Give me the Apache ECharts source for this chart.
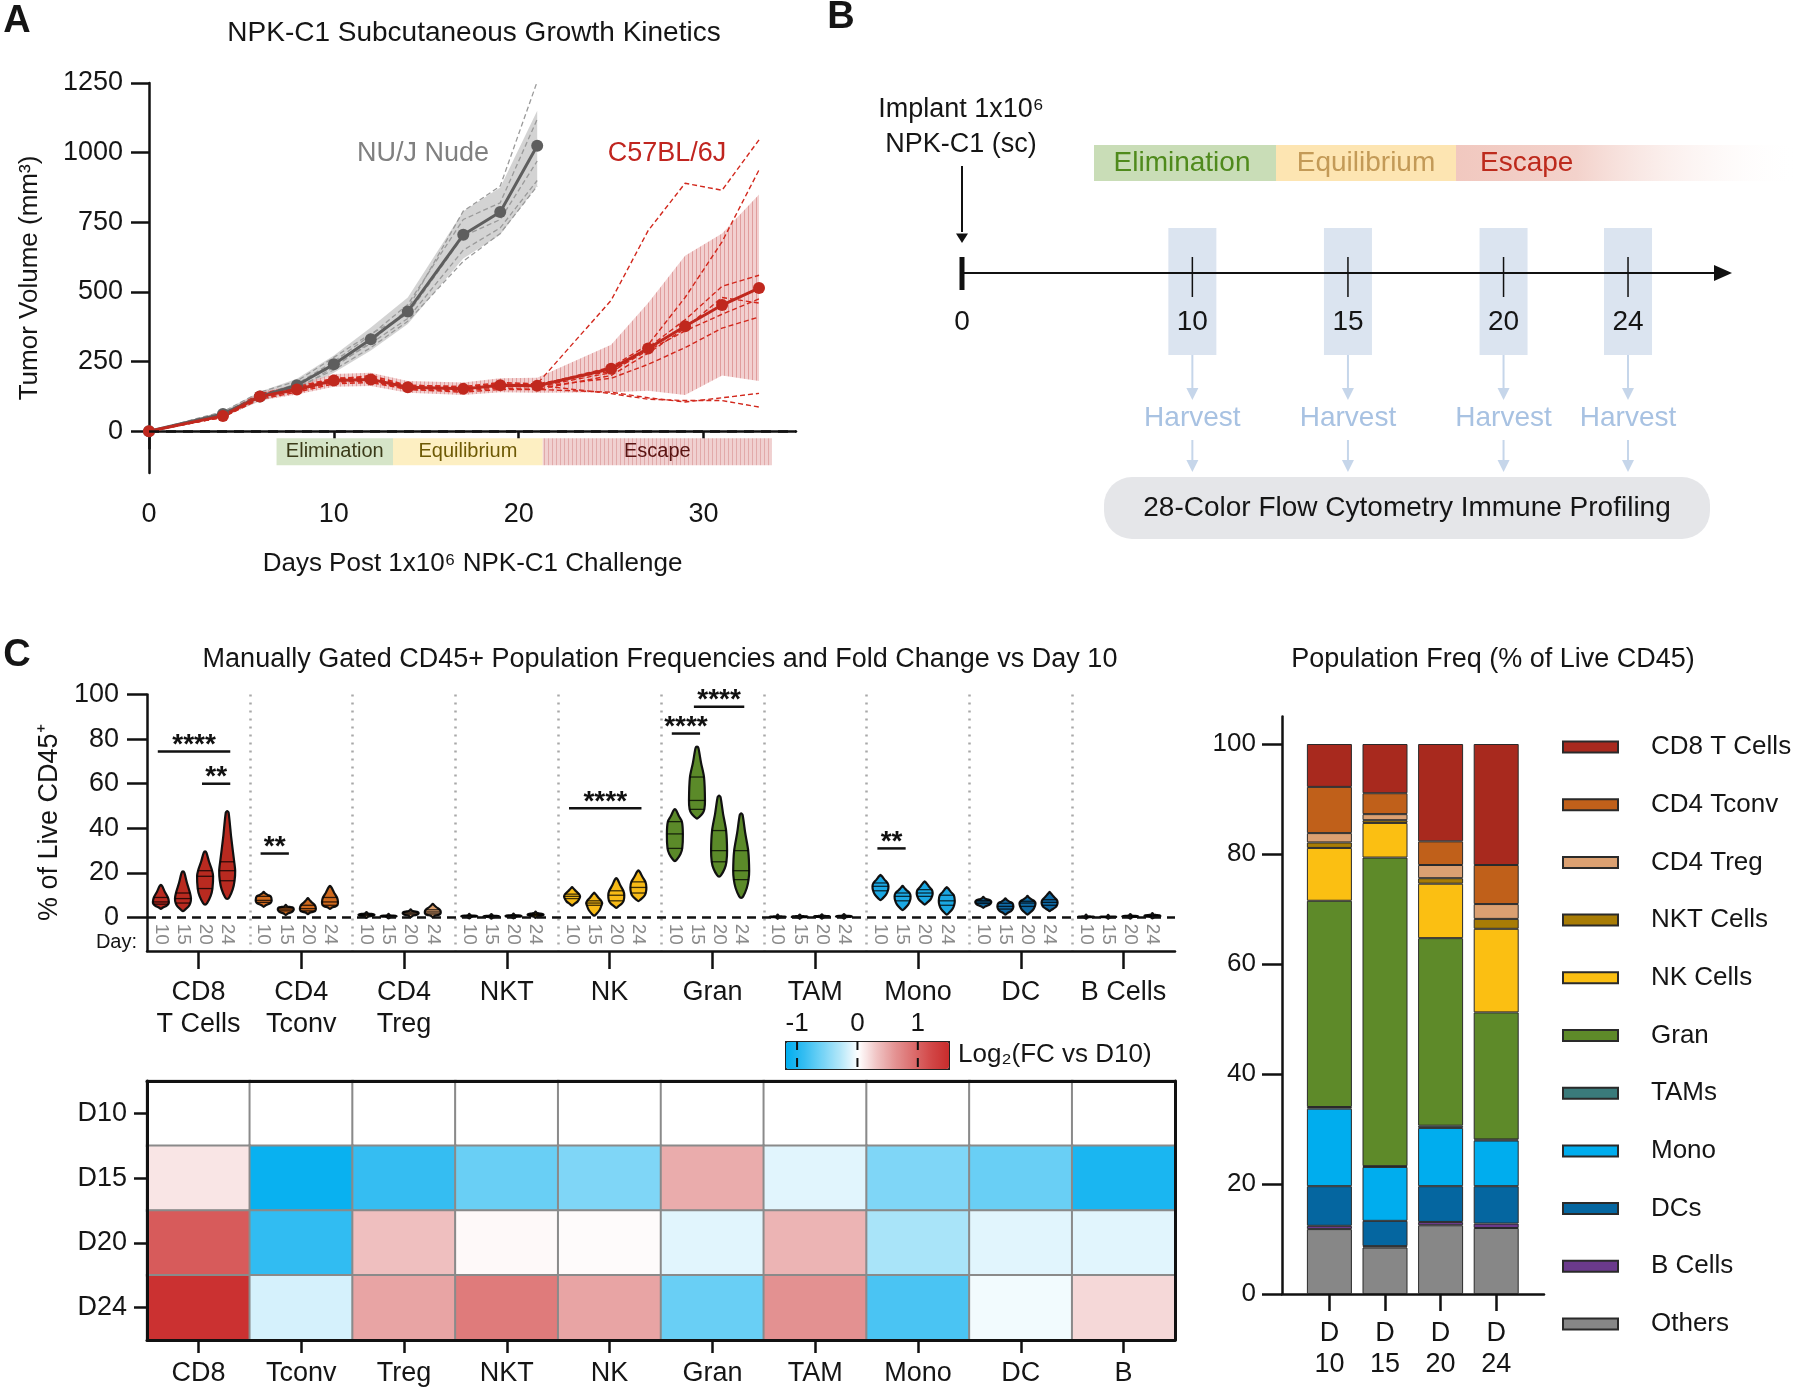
<!DOCTYPE html>
<html>
<head>
<meta charset="utf-8">
<script src="https://cdn.jsdelivr.net/npm/echarts@6/dist/echarts.min.js"></script>
<style>
  html, body { margin: 0; padding: 0; background: #fff; }
  #chart { width: 1800px; height: 1391px; }
</style>
</head>
<body>
<div id="chart"></div>
<script>
// ---- A: growth kinetics (mm3)
const nudeDays = [0, 4, 6, 8, 10, 12, 14, 17, 19, 21]
const nudeMean = [0, 62, 125, 165, 240, 330, 430, 705, 787, 1025]
const nudeUpper = [0, 72, 142, 188, 272, 372, 480, 790, 875, 1150]
const nudeLower = [0, 52, 108, 145, 210, 290, 385, 620, 705, 880]
const nudeMice = [
  [0, 55, 115, 150, 230, 320, 440, 790, 880, 1255],
  [0, 65, 130, 170, 250, 345, 455, 760, 820, 1120],
  [0, 70, 140, 180, 265, 350, 420, 700, 760, 970],
  [0, 60, 120, 165, 235, 315, 405, 650, 730, 900],
  [0, 58, 118, 158, 220, 300, 395, 610, 710, 880]
]
const b6Days = [0, 4, 6, 8, 10, 12, 14, 17, 19, 21, 25, 27, 29, 31, 33]
const b6Mean = [0, 55, 125, 150, 182, 186, 158, 152, 165, 163, 224, 297, 377, 453, 514]
const b6Upper = [0, 62, 140, 168, 205, 210, 180, 175, 190, 192, 310, 460, 630, 710, 850]
const b6Lower = [0, 48, 110, 132, 160, 162, 138, 130, 140, 138, 140, 145, 130, 200, 180]
const b6Mice = [
  [0, 50, 120, 150, 185, 200, 165, 160, 175, 170, 470, 720, 890, 865, 1046],
  [0, 60, 130, 155, 190, 195, 160, 150, 170, 165, 230, 310, 480, 680, 938],
  [0, 55, 125, 150, 180, 190, 155, 150, 160, 160, 210, 300, 400, 520, 560],
  [0, 52, 120, 145, 175, 180, 150, 145, 155, 150, 200, 280, 370, 480, 460],
  [0, 58, 128, 155, 185, 185, 160, 155, 165, 170, 215, 290, 360, 420, 475],
  [0, 55, 125, 150, 180, 180, 155, 150, 160, 160, 190, 240, 300, 370, 410],
  [0, 50, 115, 140, 170, 175, 150, 140, 150, 150, 140, 120, 105, 120, 136],
  [0, 60, 135, 160, 190, 190, 165, 160, 170, 165, 135, 115, 110, 110, 87]
]
// [name, from day, to day]
const phases = [['Elimination', 6.9, 13.2], ['Equilibrium', 13.2, 21.3], ['Escape', 21.3, 33.7]]

// ---- B: harvest schedule
const harvestDays = [10, 15, 20, 24]

// ---- C: % of live CD45+, per harvest day [min, q1, median, q3, max]
const cellTypes = ['CD8\nT Cells', 'CD4\nTconv', 'CD4\nTreg', 'NKT', 'NK', 'Gran', 'TAM', 'Mono', 'DC', 'B Cells']
const cd8Freq = [[4.5, 6, 7, 9, 14], [3.5, 6.5, 8.5, 11, 20], [6.5, 13, 18.5, 21, 29], [9, 16.5, 21, 25, 47]]
const tconvFreq = [[5.5, 6.8, 7.7, 9.5, 10.8], [1.8, 3, 3.8, 4.5, 5], [2.2, 3, 4, 5.5, 8], [4.5, 5.5, 7, 9, 13.5]]
const tregFreq = [[0.5, 0.9, 1.2, 1.5, 1.8], [0.3, 0.5, 0.6, 0.8, 1], [0.8, 1.5, 2, 2.5, 3], [0.8, 1.6, 2.5, 3.5, 5.5]]
const nktFreq = [[0.3, 0.5, 0.6, 0.8, 1], [0.2, 0.4, 0.5, 0.7, 0.9], [0.3, 0.5, 0.7, 0.9, 1.1], [0.5, 1, 1.3, 1.6, 2]]
const nkFreq = [[6, 8.5, 9.5, 10.5, 13], [1.5, 5.5, 6.5, 7.5, 10.5], [5, 7.5, 10, 12, 17], [8, 11, 13.5, 16, 20.5]]
const granFreq = [[26, 31, 37.5, 43, 48], [45, 48.5, 52.5, 63, 76], [19, 25, 30, 39, 54], [9.5, 17, 21, 30, 46]]
const tamFreq = [[0.1, 0.2, 0.3, 0.4, 0.6], [0.1, 0.2, 0.3, 0.5, 0.7], [0.2, 0.3, 0.4, 0.6, 0.8], [0.2, 0.4, 0.5, 0.7, 0.9]]
const monoFreq = [[8.5, 12, 14, 15.5, 18.5], [4, 7.5, 9.5, 11, 13.5], [6.5, 9.5, 11, 12.5, 15.6], [2, 5.5, 7.5, 10, 13]]
const dcFreq = [[5, 6.3, 7, 7.7, 8.6], [2, 3.8, 5, 6.4, 7.9], [2, 5, 6.5, 7.3, 9], [3.5, 5.5, 6.8, 8, 10.8]]
const bFreq = [[0.1, 0.2, 0.3, 0.4, 0.6], [0.1, 0.2, 0.3, 0.4, 0.5], [0.2, 0.3, 0.5, 0.7, 0.9], [0.3, 0.5, 0.7, 1, 1.3]]
// [cell index, from day index, to day index, bar height, stars]
const sigBars = [
  [0, 0, 3, 74.5, '****'], [0, 2, 3, 60, '**'], [1, 0, 1, 28.7, '**'], [4, 0, 3, 49, '****'],
  [5, 0, 1, 82.5, '****'], [5, 1, 3, 94.5, '****'], [7, 0, 1, 31, '**']
]

// ---- heatmap: log2 fold change vs D10
const fcCells = ['CD8', 'Tconv', 'Treg', 'NKT', 'NK', 'Gran', 'TAM', 'Mono', 'DC', 'B']
const fcDays = ['D10', 'D15', 'D20', 'D24']
const fcD10 = [0, 0, 0, 0, 0, 0, 0, 0, 0, 0]
const fcD15 = [0.13, -1.15, -0.9, -0.65, -0.55, 0.45, -0.12, -0.55, -0.65, -1.05]
const fcD20 = [1.05, -0.92, 0.33, 0.03, 0.02, -0.12, 0.4, -0.35, -0.12, -0.12]
const fcD24 = [1.45, -0.17, 0.5, 0.8, 0.5, -0.65, 0.62, -0.8, -0.05, 0.2]
const colorbarTicks = [-1, 0, 1]

// ---- stacked population frequency
const freqDays = ['D\n10', 'D\n15', 'D\n20', 'D\n24']
const popOthers = [11.8, 8.45, 12.5, 12.0]
const popB = [0.6, 0.25, 0.6, 0.8]
const popDC = [7.2, 4.6, 6.5, 6.8]
const popMono = [14.1, 9.8, 10.6, 8.3]
const popTAM = [0.3, 0.15, 0.4, 0.2]
const popGran = [37.5, 56.1, 34.1, 23.1]
const popNK = [9.6, 6.3, 9.9, 15.2]
const popNKT = [1.0, 0.5, 1.0, 1.8]
const popTreg = [1.7, 1.1, 2.4, 2.7]
const popTconv = [8.4, 3.8, 4.3, 7.1]
const popCD8 = [7.8, 8.95, 17.7, 22.0]

const F = "'Liberation Sans', Arial, sans-serif"
const TXT = '#151515'
const chart = echarts.init(document.getElementById('chart'))

// vertical hatch used on the escape band
function hatch (base, line) {
  const c = document.createElement('canvas')
  c.width = 4
  c.height = 4
  const ctx = c.getContext('2d')
  ctx.fillStyle = base
  ctx.fillRect(0, 0, 4, 4)
  ctx.fillStyle = line
  ctx.fillRect(0, 0, 1, 4)
  return { image: c, repeat: 'repeat' }
}

function bandRenderer (days, lower, upper, fill) {
  return function (params, api) {
    if (params.dataIndex !== 0) return
    const top = days.map((d, i) => api.coord([d, upper[i]]))
    const bot = days.map((d, i) => api.coord([d, lower[i]])).reverse()
    return { type: 'polygon', shape: { points: top.concat(bot) }, style: { fill }, silent: true }
  }
}

const txt = (text, x, y, size, extra) => ({
  type: 'text', x, y, z: 20,
  style: Object.assign({ text, fontSize: size, fontFamily: F, fill: TXT, align: 'center', verticalAlign: 'middle' }, extra || {})
})
const arrowHead = (x, y, color, s) => ({
  type: 'polygon', z: 20, shape: { points: [[x - s, y - s * 1.6], [x + s, y - s * 1.6], [x, y]] }, style: { fill: color }
})

// violins
const violinSets = [cd8Freq, tconvFreq, tregFreq, nktFreq, nkFreq, granFreq, tamFreq, monoFreq, dcFreq, bFreq]
const violinColors = ['#b92a20', '#cf691d', '#dca06e', '#a87a05', '#f8bb16', '#5b8a29', '#2f7b7b', '#1ba8e3', '#0f69a4', '#6a3d8f']
const dayOffset = d => 0.135 + d * 0.215
const violinData = []
const dayLabelData = []
violinSets.forEach((set, g) => set.forEach((q, d) => {
  violinData.push([g + dayOffset(d)].concat(q, [g]))
  dayLabelData.push([g + dayOffset(d), -7.5])
}))

function renderViolin (params, api) {
  const x = api.value(0)
  const q = [1, 2, 3, 4, 5].map(i => api.value(i))
  const color = violinColors[api.value(6)]
  const cx = api.coord([x, 0])[0]
  const y = v => api.coord([x, v])[1]
  const w = 8
  const prof = [[q[0], 0.25], [(q[0] + q[1]) / 2, 0.7], [q[1], 0.92], [q[2], 1], [q[3], 0.88], [(q[3] + q[4]) / 2, 0.5], [q[4], 0.18]]
  const right = prof.map(p => [cx + p[1] * w, y(p[0])])
  const left = prof.slice().reverse().map(p => [cx - p[1] * w, y(p[0])])
  const pts = [[cx, y(q[0]) + 1.5]].concat(right, [[cx, y(q[4]) - 1.5]], left)
  const children = [{ type: 'polygon', shape: { points: pts, smooth: 0.25 }, style: { fill: color, stroke: '#111', lineWidth: 2.2 } }]
  ;[[q[1], 0.92], [q[2], 1], [q[3], 0.88]].forEach(p => {
    children.push({ type: 'line', shape: { x1: cx - p[1] * w, y1: y(p[0]), x2: cx + p[1] * w, y2: y(p[0]) }, style: { stroke: 'rgba(0,0,0,0.75)', lineWidth: 1.3 } })
  })
  return { type: 'group', children }
}

const sigData = sigBars.map(s => [s[0] + dayOffset(s[1]) - 0.03, s[0] + dayOffset(s[2]) + 0.03, s[3]])
function renderSig (params, api) {
  const p1 = api.coord([api.value(0), api.value(2)])
  const p2 = api.coord([api.value(1), api.value(2)])
  return {
    type: 'group',
    children: [
      { type: 'line', shape: { x1: p1[0], y1: p1[1], x2: p2[0], y2: p2[1] }, style: { stroke: '#111', lineWidth: 2.5 } },
      { type: 'text', x: (p1[0] + p2[0]) / 2, y: p1[1] + 8, style: { text: sigBars[params.dataIndex][4], fontSize: 28, fontWeight: 'bold', fontFamily: F, fill: '#111', align: 'center', verticalAlign: 'bottom' } }
    ]
  }
}

function renderDayLabel (params, api) {
  const p = api.coord([api.value(0), api.value(1)])
  return {
    type: 'text', x: p[0], y: p[1], rotation: -Math.PI / 2,
    style: { text: String(harvestDays[params.dataIndex % 4]), fontSize: 19, fontFamily: F, fill: '#8a8a8a', align: 'center', verticalAlign: 'middle' }
  }
}

function renderHarvest (params, api) {
  const cs = params.coordSys
  const cx = api.coord([api.value(0), 0])[0]
  const top = cs.y
  const blue = '#c6d6ea'
  return {
    type: 'group',
    children: [
      { type: 'rect', shape: { x: cx - 24, y: top, width: 48, height: 127 }, style: { fill: '#dbe4f0' } },
      { type: 'line', z2: 5, shape: { x1: cx, y1: top + 29, x2: cx, y2: top + 69 }, style: { stroke: '#111', lineWidth: 1.5 } },
      { type: 'text', x: cx, y: top + 94, style: { text: String(api.value(0)), fontSize: 28, fontFamily: F, fill: TXT, align: 'center', verticalAlign: 'middle' } },
      { type: 'line', shape: { x1: cx, y1: top + 127, x2: cx, y2: top + 165 }, style: { stroke: blue, lineWidth: 2 } },
      { type: 'polygon', shape: { points: [[cx - 6, top + 160], [cx + 6, top + 160], [cx, top + 172]] }, style: { fill: blue } },
      { type: 'text', x: cx, y: top + 190, style: { text: 'Harvest', fontSize: 28, fontFamily: F, fill: '#a8c2e2', align: 'center', verticalAlign: 'middle' } },
      { type: 'line', shape: { x1: cx, y1: top + 212, x2: cx, y2: top + 238 }, style: { stroke: blue, lineWidth: 2 } },
      { type: 'polygon', shape: { points: [[cx - 6, top + 232], [cx + 6, top + 232], [cx, top + 244]] }, style: { fill: blue } }
    ]
  }
}

function renderColorTick (params, api) {
  const cs = params.coordSys
  const x = api.coord([api.value(0), 0.5])[0]
  return { type: 'line', shape: { x1: x, y1: cs.y, x2: x, y2: cs.y + cs.height }, style: { stroke: '#111', lineWidth: 2, lineDash: [9, 8] } }
}

const heatData = []
;[fcD10, fcD15, fcD20, fcD24].forEach((row, r) => row.forEach((v, c) => heatData.push([c, r, v])))

const popSeries = [
  ['Others', popOthers, '#878787'], ['B Cells', popB, '#6b3a8c'], ['DCs', popDC, '#0566a0'],
  ['Mono', popMono, '#00adee'], ['TAMs', popTAM, '#3a7b7b'], ['Gran', popGran, '#5e8a29'],
  ['NK Cells', popNK, '#fbbf12'], ['NKT Cells', popNKT, '#a87c05'], ['CD4 Treg', popTreg, '#dba071'],
  ['CD4 Tconv', popTconv, '#c0601a'], ['CD8 T Cells', popCD8, '#a8291e']
]

const axisBase = {
  axisLine: { show: true, lineStyle: { color: '#111', width: 2.5 } },
  axisTick: { show: true, lineStyle: { color: '#111', width: 2.5 } },
  axisLabel: { color: TXT, fontFamily: F },
  splitLine: { show: false }
}
const ax = o => echarts.util.merge(echarts.util.clone(axisBase), o, true)
const plain = v => String(v)

const series = [
  { type: 'custom', renderItem: bandRenderer(nudeDays, nudeLower, nudeUpper, 'rgba(150,150,150,0.42)'), data: nudeDays.map((d, i) => [d, nudeLower[i], nudeUpper[i]]), encode: { x: 0, y: [1, 2] }, silent: true },
  { type: 'custom', renderItem: bandRenderer(b6Days, b6Lower, b6Upper, hatch('rgba(232,170,170,0.55)', 'rgba(205,95,95,0.45)')), data: b6Days.map((d, i) => [d, b6Lower[i], b6Upper[i]]), encode: { x: 0, y: [1, 2] }, silent: true }
]
nudeMice.forEach(m => series.push({ type: 'line', symbol: 'none', silent: true, data: nudeDays.map((d, i) => [d, m[i]]), lineStyle: { color: '#9a9a9a', width: 1.3, type: [5, 3] } }))
b6Mice.forEach(m => series.push({ type: 'line', symbol: 'none', silent: true, data: b6Days.map((d, i) => [d, m[i]]), lineStyle: { color: '#d2281d', width: 1.4, type: [5, 3] } }))
const phaseStyle = {
  Elimination: { fill: '#d6e5c8', text: '#3a3a18' },
  Equilibrium: { fill: '#fdefc2', text: '#6e5a05' },
  Escape: { fill: hatch('#f0d0d0', '#e2aaaa'), text: '#5a1412' }
}
series.push({
  type: 'line', data: nudeDays.map((d, i) => [d, nudeMean[i]]), symbol: 'circle', symbolSize: 12,
  itemStyle: { color: '#5e5e5e' }, lineStyle: { color: '#5e5e5e', width: 3 }, z: 4,
  markLine: { silent: true, symbol: 'none', label: { show: false }, data: [{ yAxis: 0 }], lineStyle: { color: '#111', width: 2.5, type: [10, 7] } },
  markArea: {
    silent: true,
    data: phases.map(p => [
      { xAxis: p[1], yAxis: -25, itemStyle: { color: phaseStyle[p[0]].fill }, label: { show: true, position: 'inside', formatter: p[0], fontSize: 20, fontFamily: F, color: phaseStyle[p[0]].text } },
      { xAxis: p[2], yAxis: -122 }
    ])
  }
})
series.push({ type: 'line', data: b6Days.map((d, i) => [d, b6Mean[i]]), symbol: 'circle', symbolSize: 12, itemStyle: { color: '#c0281e' }, lineStyle: { color: '#c0281e', width: 3 }, z: 4 })

series.push({ type: 'custom', xAxisIndex: 1, yAxisIndex: 1, renderItem: renderHarvest, data: harvestDays.map(d => [d, 0]), encode: { x: 0, y: 1 }, silent: true })

series.push({
  type: 'custom', xAxisIndex: 2, yAxisIndex: 2, renderItem: renderViolin, data: violinData, encode: { x: 0, y: [1, 5] }, silent: true, z: 3,
  markLine: { silent: true, symbol: 'none', label: { show: false }, data: [{ yAxis: 0 }], lineStyle: { color: '#111', width: 2.5, type: [9, 6] } }
})
series.push({ type: 'custom', xAxisIndex: 2, yAxisIndex: 2, renderItem: renderDayLabel, data: dayLabelData, encode: { x: 0, y: 1 }, silent: true })
series.push({ type: 'custom', xAxisIndex: 2, yAxisIndex: 2, renderItem: renderSig, data: sigData, encode: { x: [0, 1], y: 2 }, silent: true })

const heatIdx = series.length
series.push({
  type: 'heatmap', xAxisIndex: 4, yAxisIndex: 3, data: heatData, silent: true, z: 1,
  itemStyle: { borderColor: '#8a8a8a', borderWidth: 2 }
})
series.push({ type: 'custom', xAxisIndex: 6, yAxisIndex: 5, renderItem: renderColorTick, data: colorbarTicks.map(v => [v, 0.5]), encode: { x: 0, y: 1 }, silent: true, z: 10 })

popSeries.forEach(p => series.push({
  name: p[0], type: 'bar', stack: 'pop', xAxisIndex: 7, yAxisIndex: 6, barWidth: 45, silent: true,
  data: p[1],
  itemStyle: { color: p[2], borderColor: '#2a2a2a', borderWidth: 1 }
}))

const option = {
  animation: false,
  backgroundColor: '#fff',
  textStyle: { fontFamily: F, color: TXT },
  grid: [
    { left: 149, top: 83, width: 647, height: 390 },
    { left: 1099, top: 228, width: 653.5, height: 310 },
    { left: 147, top: 694.5, width: 1028, height: 256.5 },
    { left: 147, top: 1081, width: 1028, height: 259 },
    { left: 785, top: 1041, width: 163, height: 27 },
    { left: 1301.6, top: 716.5, width: 222.4, height: 577.5 },
    { left: 1282, top: 716.5, width: 262, height: 577.5 }
  ],
  xAxis: [
    ax({
      gridIndex: 0, type: 'value', min: 0, max: 35,
      axisTick: { length: 18, customValues: [0, 10, 20, 30] },
      axisLabel: { fontSize: 27, margin: 28, customValues: [0, 10, 20, 30], formatter: plain },
      name: 'Days Post 1x10⁶ NPK-C1 Challenge', nameLocation: 'middle', nameGap: 78, nameTextStyle: { fontSize: 26, color: TXT, fontFamily: F }
    }),
    { gridIndex: 1, type: 'value', min: 7, max: 28, show: false },
    ax({
      gridIndex: 2, type: 'value', min: 0, max: 10, interval: 1, position: 'bottom',
      axisLine: { show: false }, axisTick: { show: false }, axisLabel: { show: false },
      splitLine: { show: true, showMinLine: false, showMaxLine: false, lineStyle: { color: '#a8a8a8', width: 2.5, type: [2, 6] } }
    }),
    ax({
      gridIndex: 2, type: 'category', data: cellTypes, position: 'bottom',
      axisTick: { alignWithLabel: true, length: 18 },
      axisLabel: { fontSize: 27, lineHeight: 32, margin: 26, interval: 0 }
    }),
    ax({
      gridIndex: 3, type: 'category', data: fcCells, position: 'bottom', z: 5,
      axisLine: { lineStyle: { width: 3 } },
      axisTick: { alignWithLabel: true, length: 13 },
      axisLabel: { fontSize: 27, margin: 20, interval: 0 }
    }),
    ax({ gridIndex: 3, type: 'category', data: fcCells, position: 'top', z: 5, axisLine: { lineStyle: { width: 3 } }, axisTick: { show: false }, axisLabel: { show: false } }),
    ax({
      gridIndex: 4, type: 'value', min: -1.2, max: 1.5, position: 'top',
      axisLine: { show: false }, axisTick: { show: false },
      axisLabel: { fontSize: 26, margin: 4, customValues: colorbarTicks }
    }),
    ax({
      gridIndex: 5, type: 'category', data: freqDays,
      axisLine: { show: false },
      axisTick: { alignWithLabel: true, length: 17 },
      axisLabel: { fontSize: 27, lineHeight: 31, margin: 24, interval: 0 }
    }),
    ax({ gridIndex: 6, type: 'value', min: 0, max: 1, axisTick: { show: false }, axisLabel: { show: false } })
  ],
  yAxis: [
    ax({
      gridIndex: 0, type: 'value', min: -150, max: 1250,
      axisTick: { length: 18, customValues: [0, 250, 500, 750, 1000, 1250] },
      axisLabel: { fontSize: 27, margin: 26, customValues: [0, 250, 500, 750, 1000, 1250], formatter: plain },
      name: 'Tumor Volume (mm³)', nameLocation: 'middle', nameGap: 106, nameTextStyle: { fontSize: 26, color: TXT, fontFamily: F }
    }),
    { gridIndex: 1, type: 'value', min: 0, max: 1, show: false },
    ax({
      gridIndex: 2, type: 'value', min: -15, max: 100,
      axisTick: { length: 20, customValues: [0, 20, 40, 60, 80, 100] },
      axisLabel: { fontSize: 27, margin: 28, customValues: [0, 20, 40, 60, 80, 100] },
      name: '% of Live CD45⁺', nameLocation: 'middle', nameGap: 80, nameTextStyle: { fontSize: 27, color: TXT, fontFamily: F }
    }),
    ax({
      gridIndex: 3, type: 'category', data: fcDays, inverse: true, position: 'left', z: 5,
      axisLine: { lineStyle: { width: 3 } },
      axisTick: { alignWithLabel: true, length: 13 },
      axisLabel: { fontSize: 27, margin: 20 }
    }),
    ax({ gridIndex: 3, type: 'category', data: fcDays, inverse: true, position: 'right', z: 5, axisLine: { lineStyle: { width: 3 } }, axisTick: { show: false }, axisLabel: { show: false } }),
    { gridIndex: 4, type: 'value', min: 0, max: 1, show: false },
    { gridIndex: 5, type: 'value', min: 0, max: 105, show: false },
    ax({
      gridIndex: 6, type: 'value', min: 0, max: 105,
      axisTick: { length: 20, customValues: [0, 20, 40, 60, 80, 100] },
      axisLabel: { fontSize: 26, margin: 26, customValues: [0, 20, 40, 60, 80, 100] }
    })
  ],
  visualMap: {
    type: 'continuous', min: -1.2, max: 1.5, orient: 'horizontal', left: 785, top: 1041,
    itemWidth: 27, itemHeight: 163, calculable: false, seriesIndex: heatIdx,
    padding: 0, borderWidth: 2, borderColor: '#222',
    inRange: { color: ['#00aeef', '#35bdf2', '#74d3f6', '#b4e7f9', '#ffffff', '#f0c4c4', '#e49494', '#dc6e6e', '#d24848', '#c92c2c'] }
  },
  legend: {
    data: popSeries.map(p => p[0]).reverse(), orient: 'vertical', left: 1562, top: 732, padding: 0,
    icon: 'rect', itemWidth: 55, itemHeight: 11, itemGap: 27.7, selectedMode: false,
    textStyle: { fontSize: 26, lineHeight: 30, fontFamily: F, color: TXT, padding: [0, 0, 0, 28] }
  },
  graphic: [
    txt('A', 17, 22, 38, { fontWeight: 'bold' }),
    txt('B', 841, 18, 38, { fontWeight: 'bold' }),
    txt('C', 17, 656, 38, { fontWeight: 'bold' }),
    txt('NPK-C1 Subcutaneous Growth Kinetics', 474, 33, 28),
    txt('NU/J Nude', 423, 154, 27, { fill: '#808080' }),
    txt('C57BL/6J', 667, 154, 27, { fill: '#c0251f' }),
    txt('Implant 1x10⁶', 961, 110, 27),
    txt('NPK-C1 (sc)', 961, 145, 27),
    { type: 'line', z: 20, shape: { x1: 962, y1: 166, x2: 962, y2: 232 }, style: { stroke: '#111', lineWidth: 2 } },
    arrowHead(962, 243, '#111', 6),
    { type: 'rect', z: 1, shape: { x: 1094, y: 145, width: 182, height: 36 }, style: { fill: '#c9ddb7' } },
    { type: 'rect', z: 1, shape: { x: 1276, y: 145, width: 180, height: 36 }, style: { fill: '#fde5b2' } },
    {
      type: 'rect', z: 1, shape: { x: 1456, y: 145, width: 344, height: 36 },
      style: { fill: new echarts.graphic.LinearGradient(0, 0, 1, 0, [{ offset: 0, color: '#f1c8bf' }, { offset: 0.35, color: '#f3d2cb' }, { offset: 1, color: 'rgba(255,255,255,0)' }]) }
    },
    txt('Elimination', 1182, 163, 28, { fill: '#4f8a1c' }),
    txt('Equilibrium', 1366, 163, 28, { fill: '#c39a57' }),
    txt('Escape', 1480, 163, 28, { fill: '#bd2a1c', align: 'left' }),
    { type: 'line', z: 20, shape: { x1: 962, y1: 273, x2: 1720, y2: 273 }, style: { stroke: '#111', lineWidth: 2 } },
    { type: 'polygon', z: 20, shape: { points: [[1714, 265], [1732, 273], [1714, 281]] }, style: { fill: '#111' } },
    { type: 'rect', z: 20, shape: { x: 959.5, y: 257, width: 5, height: 33 }, style: { fill: '#111' } },
    txt('0', 962, 322, 28),
    { type: 'rect', z: 1, shape: { x: 1104, y: 477, width: 606, height: 62, r: 28 }, style: { fill: '#e5e6e9' } },
    txt('28-Color Flow Cytometry Immune Profiling', 1407, 508, 28),
    txt('Manually Gated CD45+ Population Frequencies and Fold Change vs Day 10', 660, 660, 27),
    txt('Population Freq (% of Live CD45)', 1493, 660, 27),
    txt('Day:', 137, 942, 20, { align: 'right' }),
    txt('Log₂(FC vs D10)', 958, 1055, 26, { align: 'left' })
  ],
  series
}
chart.setOption(option)
</script>
</body>
</html>
